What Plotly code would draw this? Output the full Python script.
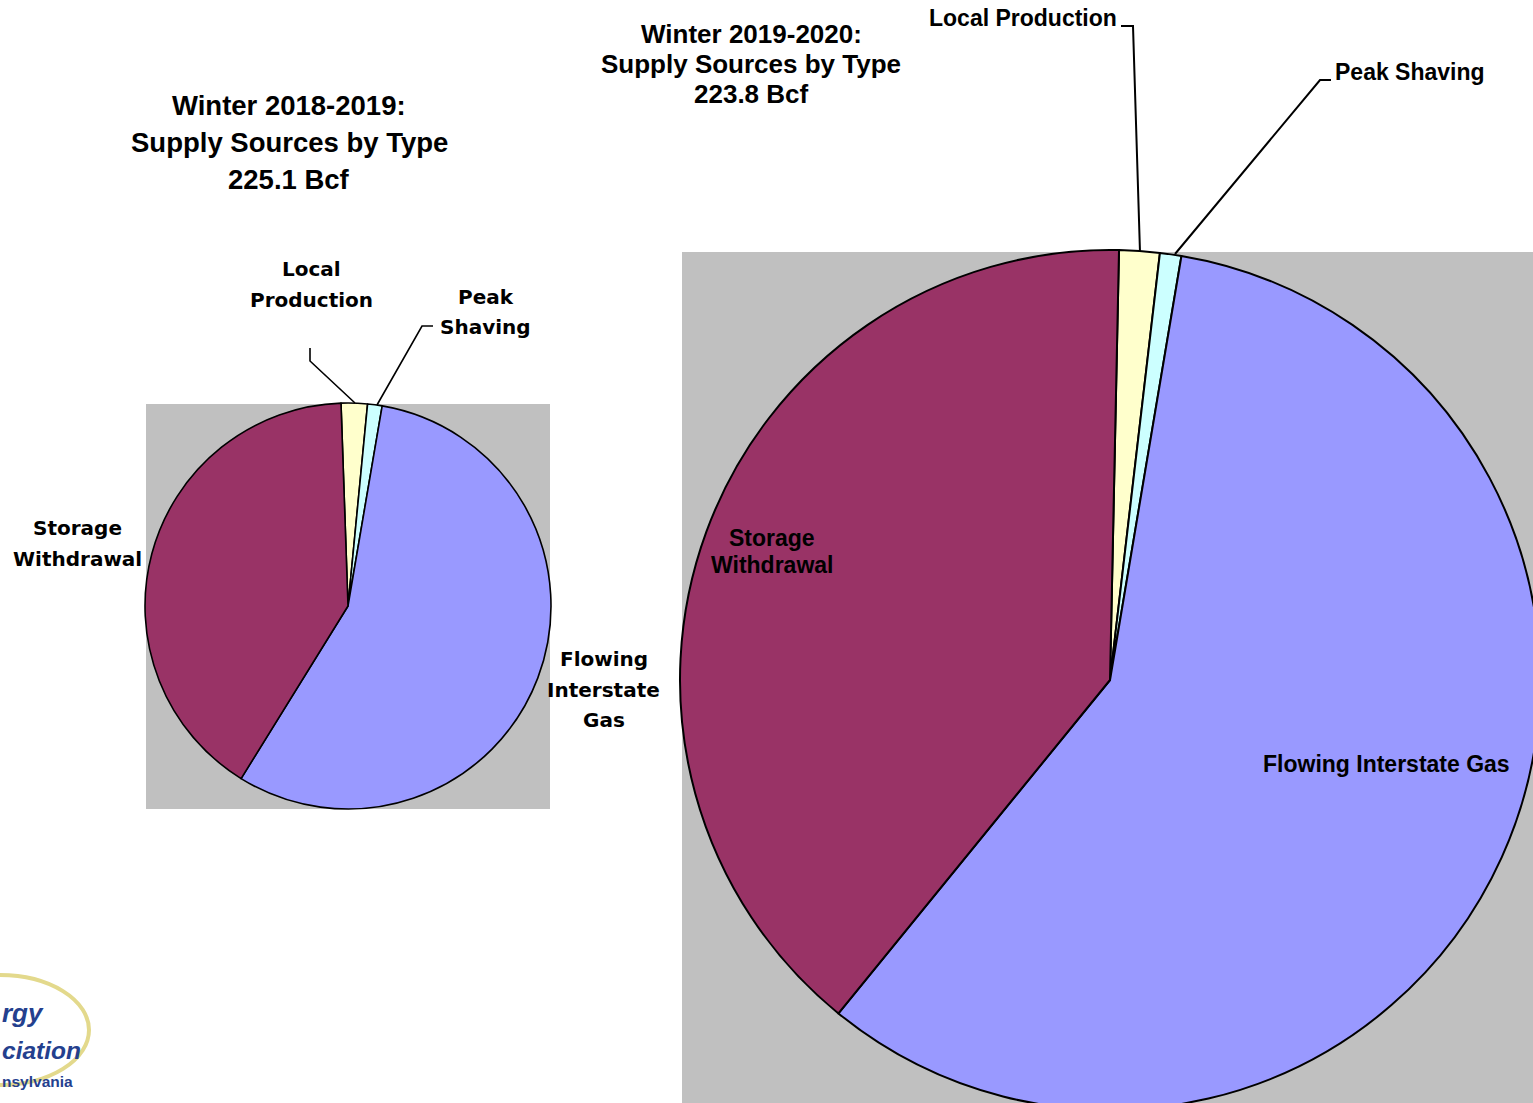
import plotly.graph_objects as go

VIEW_W, VIEW_H = 1533, 1103
W, H = 1545, 1115  # canvas slightly larger than the window so the big pie is clipped at the edges

# ---- data ----
categories = ["Local Production", "Peak Shaving", "Flowing Interstate Gas", "Storage Withdrawal"]
winter_2018_2019_bcf = [4.7, 2.6, 126.3, 91.4]
winter_2019_2020_bcf = [3.4, 1.8, 130.3, 88.3]
slice_colors = ["#FFFFCC", "#CCFFFF", "#9999FF", "#993366"]
title_2018 = ["Winter 2018-2019:", "Supply Sources by Type", "225.1 Bcf"]
title_2019 = ["Winter 2019-2020:", "Supply Sources by Type", "223.8 Bcf"]


def px(x):
    return x / W


def py(y):
    return 1 - y / H


fig = go.Figure()

fig.add_trace(go.Pie(
    labels=categories, values=winter_2018_2019_bcf, sort=False,
    direction="clockwise", rotation=-1.98, textinfo="none",
    marker=dict(colors=slice_colors, line=dict(color="black", width=1.6)),
    domain=dict(x=[px(145), px(551)], y=[py(809), py(403)]),
    showlegend=False, name="2018-2019",
))
fig.add_trace(go.Pie(
    labels=categories, values=winter_2019_2020_bcf, sort=False,
    direction="clockwise", rotation=1.2, textinfo="none",
    marker=dict(colors=slice_colors, line=dict(color="black", width=2)),
    domain=dict(x=[px(680), px(1540)], y=[py(1110), py(250)]),
    showlegend=False, name="2019-2020",
))

shapes = [
    dict(type="rect", xref="paper", yref="paper", x0=px(146), x1=px(550), y0=py(809), y1=py(404),
         fillcolor="#C0C0C0", line=dict(width=0), layer="below"),
    dict(type="rect", xref="paper", yref="paper", x0=px(682), x1=1, y0=0, y1=py(252),
         fillcolor="#C0C0C0", line=dict(width=0), layer="below"),
]


def leader(points, width=1.6):
    d = "M " + " L ".join(f"{px(x):.5f},{py(y):.5f}" for x, y in points)
    return dict(type="path", xref="paper", yref="paper", path=d,
                line=dict(color="black", width=width))


shapes += [
    leader([(310, 348), (310, 361), (355, 403)]),
    leader([(433, 326), (422, 326), (377, 405)]),
    leader([(1121, 26), (1133, 26), (1140, 252)], 2),
    leader([(1331, 80), (1320, 80), (1175, 254)], 2),
]

# logo swoosh (partially clipped at the left edge)
shapes.append(dict(type="circle", xref="paper", yref="paper",
                   x0=px(-89), x1=px(89), y0=py(1085), y1=py(975),
                   line=dict(color="#E3D98C", width=4), layer="below"))

ann = []


def text(s, x, y, size, family="Liberation Sans, Arial, sans-serif", color="black",
         xanchor="center", bold=True, italic=False):
    t = f"<b>{s}</b>" if bold else s
    if italic:
        t = f"<i>{t}</i>"
    ann.append(dict(text=t, x=px(x), y=py(y), xref="paper", yref="paper", showarrow=False,
                    xanchor=xanchor, yanchor="middle",
                    font=dict(size=size, family=family, color=color)))


for line, y in zip(title_2018, [105, 142, 179]):
    text(line, 289, y, 27.5)
for line, y in zip(title_2019, [34, 64, 94]):
    text(line, 751, y, 26)

wide = "DejaVu Sans, sans-serif"
text("Local", 311, 269, 20, wide)
text("Production", 311, 300, 20, wide)
text("Peak", 486, 297, 20, wide)
text("Shaving", 485, 327, 20, wide)
text("Storage", 77, 528, 20, wide)
text("Withdrawal", 77, 559, 20, wide)
text("Flowing", 604, 659, 20, wide)
text("Interstate", 603, 690, 20, wide)
text("Gas", 604, 720, 20, wide)

text("Local Production", 1023, 18, 23)
text("Peak Shaving", 1410, 72, 23)
text("Storage", 772, 538, 23)
text("Withdrawal", 772, 565, 23)
text("Flowing Interstate Gas", 1386, 764, 23)

# logo text (only the visible part of the clipped logo)
logo_blue = "#24408E"
text("rgy", 0, 1013, 26, color=logo_blue, xanchor="left", italic=True)
text("ciation", 0, 1050, 24.5, color=logo_blue, xanchor="left", italic=True)
text("nsylvania", 0, 1081, 15.5, color=logo_blue, xanchor="left")

fig.update_layout(
    width=W, height=H, margin=dict(l=0, r=0, t=0, b=0),
    paper_bgcolor="white", plot_bgcolor="white",
    shapes=shapes, annotations=ann, showlegend=False,
)

fig.write_html(
    "out.html",
    config={"displayModeBar": False},
    post_script=(
        "document.documentElement.style.overflow='hidden';"
        "document.body.style.margin='0';"
        "document.body.style.overflow='hidden';"
    ),
)
